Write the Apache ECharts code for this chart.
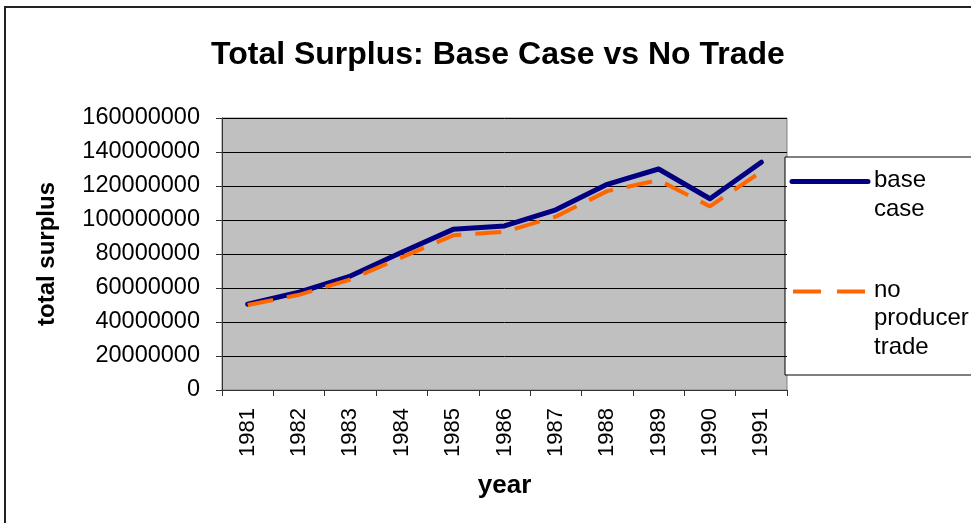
<!DOCTYPE html>
<html>
<head>
<meta charset="utf-8">
<title>Total Surplus</title>
<script src="https://cdn.jsdelivr.net/npm/echarts@6/dist/echarts.min.js"></script>
<style>
  html, body { margin: 0; padding: 0; background: #fff; }
  #chart { width: 971px; height: 523px; }
</style>
</head>
<body>
<div id="chart"></div>
<script>
// data
const years = ['1981', '1982', '1983', '1984', '1985', '1986', '1987', '1988', '1989', '1990', '1991']
const baseCase = [50500000, 57500000, 67000000, 81000000, 94500000, 96500000, 106000000, 121000000, 130000000, 112500000, 134000000]
const noProducerTrade = [50000000, 56000000, 65000000, 78000000, 91000000, 93000000, 102000000, 117000000, 123500000, 108000000, 128500000]
const yTicks = { min: 0, max: 160000000, interval: 20000000 }

const FONT = '"Liberation Sans", Arial, sans-serif'

const chart = echarts.init(document.getElementById('chart'))

chart.setOption({
  animation: false,
  backgroundColor: '#fff',
  title: {
    text: 'Total Surplus: Base Case vs No Trade',
    left: 206,
    top: 34,
    textStyle: { fontFamily: FONT, fontSize: 32, fontWeight: 'bold', color: '#000' }
  },
  grid: {
    left: 222,
    right: 184,
    top: 118,
    bottom: 133,
    show: true,
    backgroundColor: '#C0C0C0',
    borderColor: '#808080',
    borderWidth: 1,
    outerBoundsMode: 'none'
  },
  xAxis: {
    type: 'category',
    data: years,
    boundaryGap: true,
    name: 'year',
    nameLocation: 'middle',
    nameGap: 83,
    nameTextStyle: { fontFamily: FONT, fontSize: 26, fontWeight: 'bold', color: '#000' },
    axisLine: { lineStyle: { color: '#333', width: 1 } },
    axisTick: { show: true, length: 6, lineStyle: { color: '#333' } },
    axisLabel: { rotate: 90, margin: 18, fontFamily: FONT, fontSize: 22, color: '#000' },
    splitLine: { show: false }
  },
  yAxis: {
    type: 'value',
    min: yTicks.min,
    max: yTicks.max,
    interval: yTicks.interval,
    name: 'total surplus',
    nameLocation: 'middle',
    nameGap: 163,
    nameTextStyle: { fontFamily: FONT, fontSize: 24, fontWeight: 'bold', color: '#000' },
    axisLine: { show: true, lineStyle: { color: '#333', width: 1 } },
    axisTick: { show: true, length: 6, lineStyle: { color: '#333' } },
    axisLabel: {
      margin: 22,
      fontFamily: FONT,
      fontSize: 23.5,
      color: '#000',
      formatter: (v) => String(v)
    },
    splitLine: { show: true, lineStyle: { color: '#000', width: 1 } }
  },
  series: [
    {
      name: 'base case',
      type: 'line',
      data: baseCase,
      symbol: 'none',
      lineStyle: { color: '#000080', width: 5, cap: 'round', join: 'round' },
      z: 3
    },
    {
      name: 'no producer trade',
      type: 'line',
      data: noProducerTrade,
      symbol: 'none',
      lineStyle: { color: '#FF6600', width: 4, type: [26, 14] },
      z: 4
    }
  ],
  graphic: [
    // outer chart frame (only left and top edges are inside the picture)
    {
      type: 'rect',
      shape: { x: 5, y: 7, width: 1200, height: 800 },
      style: { fill: 'none', stroke: '#222', lineWidth: 2 },
      silent: true
    },
    // legend box
    {
      type: 'group',
      z: 10,
      children: [
        {
          type: 'rect',
          shape: { x: 785, y: 157, width: 300, height: 218 },
          style: { fill: '#fff', stroke: '#000', lineWidth: 1 }
        },
        {
          type: 'line',
          shape: { x1: 792, y1: 181.5, x2: 868, y2: 181.5 },
          style: { stroke: '#000080', lineWidth: 5, lineCap: 'round' }
        },
        {
          type: 'text',
          x: 874,
          y: 166,
          style: { text: 'base\ncase', font: '24px ' + FONT, fill: '#000', lineHeight: 29, verticalAlign: 'top' }
        },
        {
          type: 'line',
          shape: { x1: 793, y1: 291.5, x2: 866, y2: 291.5 },
          style: { stroke: '#FF6600', lineWidth: 4, lineDash: [28, 16] }
        },
        {
          type: 'text',
          x: 874,
          y: 276,
          style: { text: 'no\nproducer\ntrade', font: '24px ' + FONT, fill: '#000', lineHeight: 28.5, verticalAlign: 'top' }
        }
      ]
    }
  ]
})

window.addEventListener('resize', () => chart.resize())
</script>
</body>
</html>
